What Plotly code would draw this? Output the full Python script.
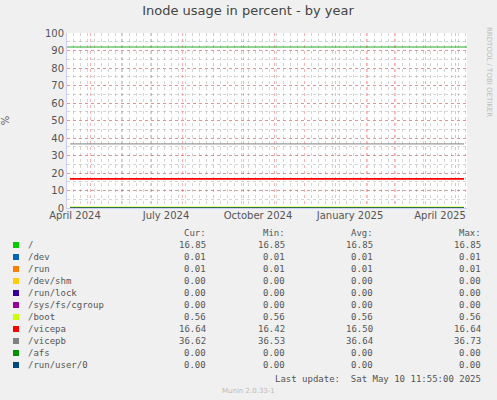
import plotly.graph_objects as go

names = ["/", "/dev", "/run", "/dev/shm", "/run/lock", "/sys/fs/cgroup", "/boot", "/vicepa", "/vicepb", "/afs", "/run/user/0"]
colors = ["#00cc00", "#0066b3", "#ff8000", "#ffcc00", "#330099", "#990099", "#ccff00", "#ff0000", "#808080", "#008f00", "#00487d"]
cur = [16.85, 0.01, 0.01, 0.00, 0.00, 0.00, 0.56, 16.64, 36.62, 0.00, 0.00]
mins = [16.85, 0.01, 0.01, 0.00, 0.00, 0.00, 0.56, 16.42, 36.53, 0.00, 0.00]
avgs = [16.85, 0.01, 0.01, 0.00, 0.00, 0.00, 0.56, 16.50, 36.64, 0.00, 0.00]
maxs = [16.85, 0.01, 0.01, 0.00, 0.00, 0.00, 0.56, 16.64, 36.73, 0.00, 0.00]
warn_level = 92
warn_color = "#22aa22"
span = ["2024-04-11", "2025-05-10"]
full_span = ["2024-04-08", "2025-05-13"]
tick_vals = ["2024-04-16", "2024-07-16", "2024-10-16", "2025-01-16", "2025-04-16"]
tick_text = ["April 2024", "July 2024", "October 2024", "January 2025", "April 2025"]

fig = go.Figure()
for n, c, v in zip(names, colors, cur):
    fig.add_trace(go.Scatter(x=span, y=[v, v], mode="lines", line=dict(color=c, width=1.6 if n == "/vicepa" else 1), showlegend=False, hoverinfo="skip"))
fig.add_trace(go.Scatter(x=full_span, y=[warn_level, warn_level], mode="lines", line=dict(color=warn_color, width=1), showlegend=False, hoverinfo="skip"))
fig.add_trace(go.Scatter(x=full_span, y=[None, None], xaxis="x2", showlegend=False))

red = "rgba(255,0,0,0.3)"
gray = "rgba(150,150,150,0.4)"
W, H = 497, 400
L, R, T, B = 67, 30, 33, 192
fig.update_layout(
    width=W, height=H, margin=dict(l=L, r=R, t=T, b=B, autoexpand=False),
    paper_bgcolor="#f0f0f0", plot_bgcolor="#ffffff",
    font=dict(family="DejaVu Sans", size=10, color="#555555"),
    title=dict(text="Inode usage in percent - by year", x=248 / W, xanchor="center", y=0.985, yanchor="top", font=dict(size=13, color="#444444")),
    xaxis=dict(type="date", range=full_span, dtick="M1", tick0="2024-05-01", showticklabels=False,
               showgrid=True, gridcolor=red, griddash="dot", gridwidth=1, automargin=False,
               minor=dict(dtick=7*86400000, tick0="2024-05-05", showgrid=True, gridcolor=gray, griddash="dot"),
               zeroline=False, showline=True, linecolor="#ccccff", ticks=""),
    xaxis2=dict(type="date", range=full_span, overlaying="x", matches="x", side="bottom", tickmode="array",
                tickvals=tick_vals, ticktext=tick_text, showgrid=False, zeroline=False, ticks="", automargin=False,
                tickfont=dict(size=10, color="#555555")),
    yaxis=dict(range=[0, 100], tickmode="array", tickvals=list(range(0, 101, 10)), showgrid=True,
               gridcolor=red, griddash="dot", automargin=False,
               minor=dict(dtick=5, showgrid=True, gridcolor=gray, griddash="dot"),
               zeroline=False, showline=True, linecolor="#ccccff", ticks="", tickfont=dict(size=10, color="#555555"),
               title=dict(text="%", standoff=33, font=dict(size=10))),
)

mono = "DejaVu Sans Mono"
def txt(x, y, s, anchor="left", color="#555555", size=9, fam=mono, **kw):
    fig.add_annotation(x=x, y=y, xref="paper", yref="paper", text=s, showarrow=False,
                       xanchor=anchor, yanchor="middle", font=dict(family=fam, size=size, color=color), **kw)

def px(xp): return (xp - L) / (W - L - R)
def py(yp): return (H - B - yp) / (H - T - B)

cols = [208, 287, 375, 483]
for cx, h in zip(cols, ["Cur:", "Min:", "Avg:", "Max:"]):
    txt(px(cx), py(233), h, anchor="right")
for i, n in enumerate(names):
    y = 245 + 12 * i
    fig.add_shape(type="rect", xref="paper", yref="paper", x0=px(13), x1=px(19), y0=py(y + 3), y1=py(y - 3),
                  fillcolor=colors[i], line=dict(width=0))
    txt(px(26), py(y), n)
    for cx, arr in zip(cols, [cur, mins, avgs, maxs]):
        txt(px(cx), py(y), f"{arr[i]:.2f}", anchor="right")
txt(px(483), py(379), "Last update:  Sat May 10 11:55:00 2025", anchor="right")
txt(px(248), py(391), "Munin 2.0.33-1", anchor="center", color="#bbbbbb", size=7, fam="DejaVu Sans")
txt(px(489), py(72), "RRDTOOL / TOBI OETIKER", anchor="center", color="#bbbbbb", size=7, fam="DejaVu Sans", textangle=90)

fig.write_html("out.html", config={"displayModeBar": False},
               post_script="document.body.style.margin='0';document.body.style.overflow='hidden';")
